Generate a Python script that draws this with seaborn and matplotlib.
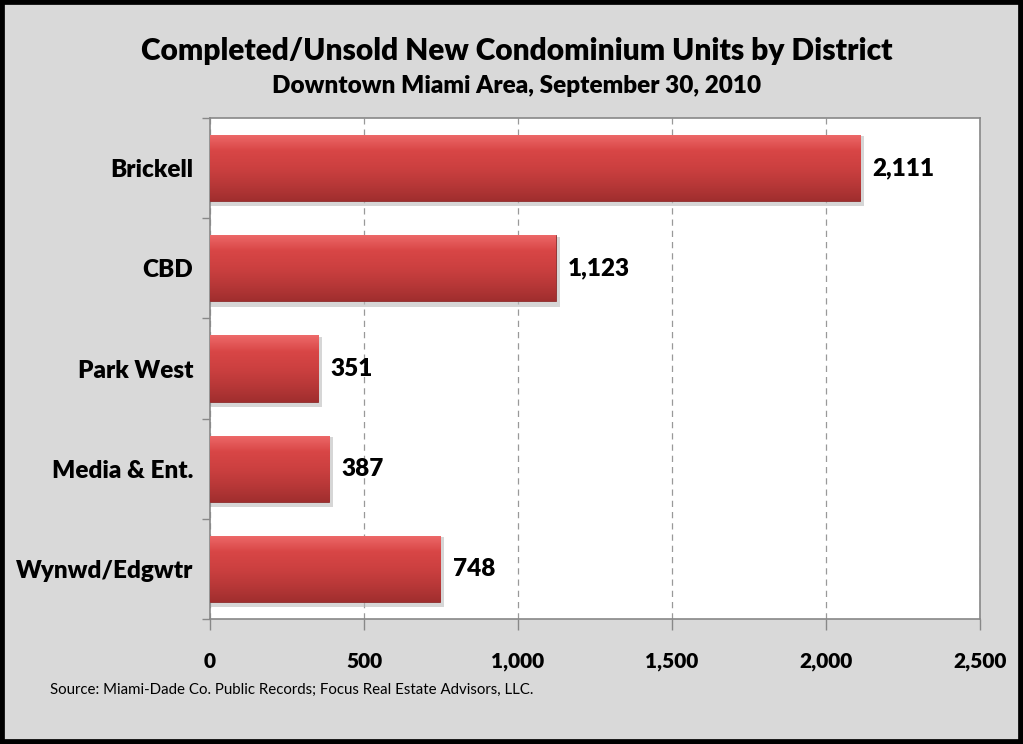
import numpy as np
import pandas as pd
import matplotlib
matplotlib.use("Agg")
import matplotlib.pyplot as plt
import seaborn as sns
from matplotlib.patches import Rectangle
from matplotlib.colors import LinearSegmentedColormap
from matplotlib.ticker import FuncFormatter, FixedLocator

districts = ["Brickell", "CBD", "Park West", "Media & Ent.", "Wynwd/Edgwtr"]
units = [2111, 1123, 351, 387, 748]
x_ticks = [0, 500, 1000, 1500, 2000, 2500]

title = "Completed/Unsold New Condominium Units by District"
subtitle = "Downtown Miami Area, September 30, 2010"
source = "Source: Miami-Dade Co. Public Records; Focus Real Estate Advisors, LLC."

sns.set_style("white")
plt.rcParams["font.family"] = ["Lato", "DejaVu Sans"]
W = "heavy"

df = pd.DataFrame({"district": districts, "units": units})

fig = plt.figure(figsize=(10.23, 7.44), dpi=100)
fig.patch.set_facecolor("#d9d9d9")
fig.patches.append(Rectangle((0, 0), 1, 1, transform=fig.transFigure, fill=False,
                             edgecolor="black", linewidth=7, zorder=10))

ax = fig.add_axes([0.2053, 0.168, 0.7527, 0.6734])
ax.set_facecolor("white")
sns.barplot(data=df, x="units", y="district", orient="h", color="#c83c3c",
            width=0.66, ax=ax, zorder=3)

ax.set_xlim(0, 2500)
ax.set_ylim(len(districts) - 0.5, -0.5)

cmap = LinearSegmentedColormap.from_list("bar", ["#ee6a6a", "#d84646", "#cc4040", "#b83838", "#a02e2e"])
grad = np.linspace(0, 1, 256).reshape(-1, 1)
for p in ax.patches:
    x0, y0 = p.get_x(), p.get_y()
    w, h = p.get_width(), p.get_height()
    ax.add_patch(Rectangle((x0, y0 + h * 0.02), w + 12, h + 0.04, facecolor="#bbbbbb",
                           edgecolor="none", zorder=2, alpha=0.6))
    im = ax.imshow(grad, extent=(x0, x0 + w, y0 + h, y0), aspect="auto",
                   cmap=cmap, zorder=4, origin="upper")
    im.set_clip_path(p)
    p.set_edgecolor("#8c2a2a")
    p.set_linewidth(0.6)
    ax.text(x0 + w + 40, y0 + h / 2, f"{int(w):,}", va="center", ha="left",
            fontsize=17.5, fontweight=W, color="black", zorder=5)

ax.set_xlim(0, 2500)
ax.set_ylim(len(districts) - 0.5, -0.5)

ax.xaxis.set_major_locator(FixedLocator(x_ticks))
ax.xaxis.set_major_formatter(FuncFormatter(lambda v, _: f"{int(v):,}"))
ax.grid(axis="x", color="#999999", linestyle=(0, (5, 4)), linewidth=0.9, zorder=0)
ax.set_axisbelow(True)

ax.tick_params(axis="x", which="major", length=8, width=1, color="#888888",
               direction="out", pad=16, labelsize=15, bottom=True, labelcolor="black")
ax.tick_params(axis="y", which="major", length=0, pad=12, labelsize=17.5, labelcolor="black")
for lab in ax.get_xticklabels() + ax.get_yticklabels():
    lab.set_fontweight(W)
ax.yaxis.set_minor_locator(FixedLocator(np.arange(-0.5, len(districts), 1.0)))
ax.tick_params(axis="y", which="minor", length=6, width=1, color="#888888",
               direction="out", left=True)

for s in ax.spines.values():
    s.set_visible(True)
    s.set_color("#888888")
    s.set_linewidth(1.2)

ax.set_xlabel("")
ax.set_ylabel("")

fig.text(0.505, 0.932, title, ha="center", va="center", fontsize=21.5, fontweight=W, color="black")
fig.text(0.505, 0.884, subtitle, ha="center", va="center", fontsize=17.5, fontweight=W, color="black")
fig.text(0.049, 0.073, source, ha="left", va="center", fontsize=10.8, color="black")

fig.savefig("out.png", dpi=100, facecolor=fig.get_facecolor())
